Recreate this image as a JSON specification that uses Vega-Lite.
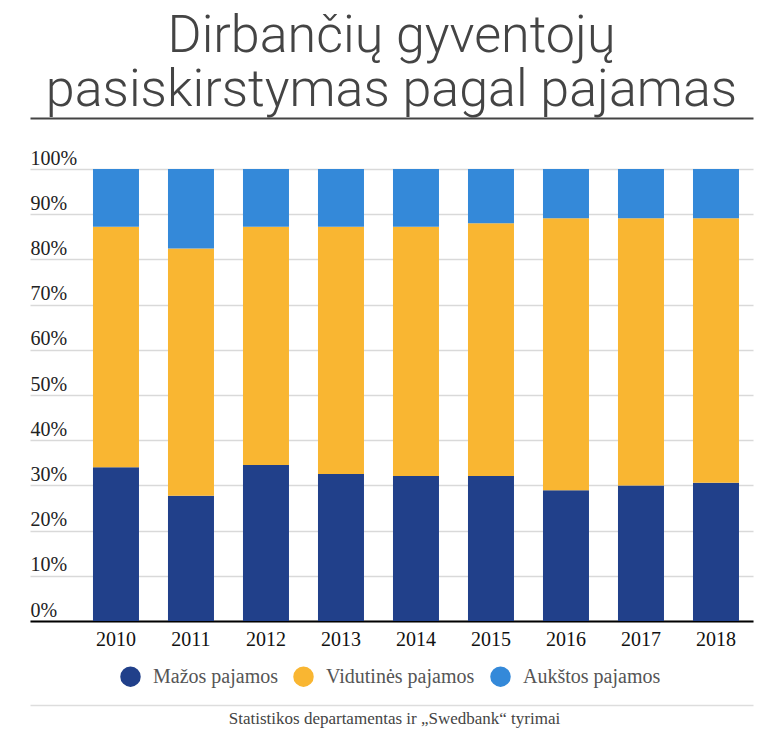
{
  "$schema": "https://vega.github.io/schema/vega-lite/v6.json",
  "autosize": {"type": "none"},
  "width": 723,
  "height": 452,
  "padding": {"left": 30, "top": 169, "right": 15, "bottom": 112},
  "background": "white",
  "title": {
    "text": ["Dirbančių gyventojų", "pasiskirstymas pagal pajamas"],
    "font": "Roboto",
    "fontWeight": 300,
    "fontSize": 52,
    "lineHeight": 54,
    "color": "#444444",
    "anchor": "middle",
    "baseline": "alphabetic",
    "offset": -40
  },
  "data": {
    "values": [
      {"year": "2010", "group": "Mažos pajamos", "ord": 1, "share": 34.0},
      {"year": "2010", "group": "Vidutinės pajamos", "ord": 2, "share": 53.2},
      {"year": "2010", "group": "Aukštos pajamos", "ord": 3, "share": 12.8},
      {"year": "2011", "group": "Mažos pajamos", "ord": 1, "share": 27.7},
      {"year": "2011", "group": "Vidutinės pajamos", "ord": 2, "share": 54.7},
      {"year": "2011", "group": "Aukštos pajamos", "ord": 3, "share": 17.6},
      {"year": "2012", "group": "Mažos pajamos", "ord": 1, "share": 34.5},
      {"year": "2012", "group": "Vidutinės pajamos", "ord": 2, "share": 52.7},
      {"year": "2012", "group": "Aukštos pajamos", "ord": 3, "share": 12.8},
      {"year": "2013", "group": "Mažos pajamos", "ord": 1, "share": 32.5},
      {"year": "2013", "group": "Vidutinės pajamos", "ord": 2, "share": 54.7},
      {"year": "2013", "group": "Aukštos pajamos", "ord": 3, "share": 12.8},
      {"year": "2014", "group": "Mažos pajamos", "ord": 1, "share": 32.1},
      {"year": "2014", "group": "Vidutinės pajamos", "ord": 2, "share": 55.1},
      {"year": "2014", "group": "Aukštos pajamos", "ord": 3, "share": 12.8},
      {"year": "2015", "group": "Mažos pajamos", "ord": 1, "share": 32.1},
      {"year": "2015", "group": "Vidutinės pajamos", "ord": 2, "share": 55.9},
      {"year": "2015", "group": "Aukštos pajamos", "ord": 3, "share": 12.0},
      {"year": "2016", "group": "Mažos pajamos", "ord": 1, "share": 28.9},
      {"year": "2016", "group": "Vidutinės pajamos", "ord": 2, "share": 60.2},
      {"year": "2016", "group": "Aukštos pajamos", "ord": 3, "share": 10.9},
      {"year": "2017", "group": "Mažos pajamos", "ord": 1, "share": 30.0},
      {"year": "2017", "group": "Vidutinės pajamos", "ord": 2, "share": 59.1},
      {"year": "2017", "group": "Aukštos pajamos", "ord": 3, "share": 10.9},
      {"year": "2018", "group": "Mažos pajamos", "ord": 1, "share": 30.6},
      {"year": "2018", "group": "Vidutinės pajamos", "ord": 2, "share": 58.5},
      {"year": "2018", "group": "Aukštos pajamos", "ord": 3, "share": 10.9}
    ]
  },
  "layer": [
    {
      "mark": {"type": "bar"},
      "encoding": {
        "x": {
          "field": "year",
          "type": "nominal",
          "scale": {"paddingInner": 0.3867, "paddingOuter": 0.5133, "align": 0.818},
          "axis": {
            "title": null,
            "labelAngle": 0,
            "labelFont": "Liberation Serif",
            "labelFontSize": 20,
            "labelColor": "#111111",
            "labelPadding": 8,
            "ticks": false,
            "tickSize": 0,
            "domainColor": "#000000",
            "domainWidth": 2,
            "grid": false
          }
        },
        "y": {
          "field": "share",
          "type": "quantitative",
          "stack": "zero",
          "scale": {"domain": [0, 100]},
          "axis": {
            "title": null,
            "values": [0, 10, 20, 30, 40, 50, 60, 70, 80, 90, 100],
            "labelExpr": "datum.value + '%'",
            "labelFont": "Liberation Serif",
            "labelFontSize": 20,
            "labelColor": "#222222",
            "labelAlign": "left",
            "labelBaseline": "alphabetic",
            "labelOffset": -5,
            "labelPadding": 0,
            "ticks": false,
            "tickSize": 0,
            "domain": false,
            "grid": true,
            "gridColor": "#d9d9d9",
            "gridWidth": 1.5
          }
        },
        "color": {
          "field": "group",
          "type": "nominal",
          "scale": {
            "domain": ["Mažos pajamos", "Vidutinės pajamos", "Aukštos pajamos"],
            "range": ["#21408a", "#f9b632", "#3489d9"]
          },
          "legend": {
            "title": null,
            "orient": "none",
            "direction": "horizontal",
            "legendX": 90,
            "legendY": 497,
            "symbolType": "circle",
            "symbolSize": 420,
            "symbolStrokeWidth": 0,
            "labelFont": "Liberation Serif",
            "labelFontSize": 20,
            "labelColor": "#555555",
            "labelOffset": 12,
            "columnPadding": 15
          }
        },
        "order": {"field": "ord", "type": "quantitative"}
      }
    },
    {
      "mark": {"type": "bar", "opacity": 0},
      "encoding": {
        "x": {
          "field": "year",
          "type": "nominal",
          "axis": {
            "orient": "top",
            "offset": 51,
            "title": null,
            "labels": false,
            "ticks": false,
            "grid": false,
            "domainColor": "#444444",
            "domainWidth": 2
          }
        }
      }
    },
    {
      "mark": {"type": "bar", "opacity": 0},
      "encoding": {
        "x": {
          "field": "year",
          "type": "nominal",
          "axis": {
            "orient": "bottom",
            "offset": 84,
            "title": "Statistikos departamentas ir „Swedbank“ tyrimai",
            "titleFont": "Liberation Serif",
            "titleFontSize": 17,
            "titleFontWeight": "normal",
            "titleColor": "#444444",
            "titlePadding": 5,
            "titleX": 364,
            "labels": false,
            "ticks": false,
            "grid": false,
            "domainColor": "#dddddd",
            "domainWidth": 1.5
          }
        }
      }
    }
  ],
  "resolve": {"axis": {"x": "independent"}},
  "config": {"view": {"stroke": null}}
}
